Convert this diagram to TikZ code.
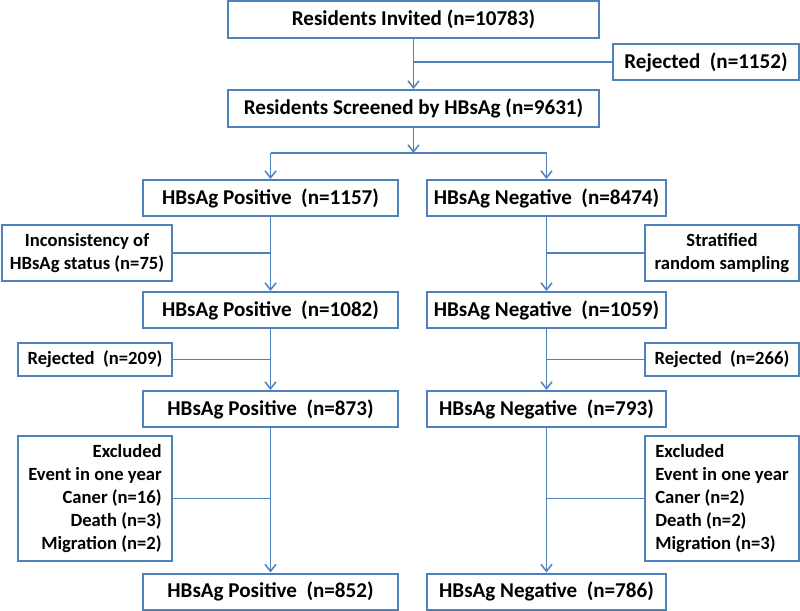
\documentclass[tikz,border=0pt]{standalone}
\usepackage{fontspec}
\setmainfont{Carlito}
\usetikzlibrary{arrows.meta}
\definecolor{r79g129b189}{rgb}{0.309804,0.505882,0.741176}
\tikzset{
  flowbox/.style={draw=r79g129b189, line width=0.040000cm, inner sep=0pt,
    minimum height=0.720000cm, font=\fontsize{12}{14}\selectfont\bfseries},
  sidebox/.style={draw=r79g129b189, line width=0.040000cm, inner sep=0pt,
    minimum width=3.080000cm, font=\fontsize{10.6}{13}\selectfont\bfseries},
  link/.style={draw=r79g129b189, line width=0.030000cm},
  flowarrow/.style={link, -{Straight Barb[length=0.140000cm,width=0.220000cm]}}
}
\begin{document}
\begin{tikzpicture}
                    \useasboundingbox (0.000000,0.000000) rectangle (16.000000,-12.220000);
                    
                    % Drawing box residents invited
                    \draw (8.270000,-0.390000) node [flowbox, minimum width=7.420000cm, minimum height=0.740000cm] (invited) { Residents Invited (n=10783) };%
                    
                    % Drawing box rejected at invitation
                    \draw (14.120000,-1.240000) node [flowbox, minimum width=3.720000cm] (rejtop) { Rejected~ (n=1152) };%
                    
                    % Drawing box residents screened
                    \draw (8.270000,-2.170000) node [flowbox, minimum width=7.420000cm, minimum height=0.740000cm] (screened) { Residents Screened by HBsAg (n=9631) };%
                    
                    % Drawing boxes HBsAg positive
                    \draw (5.410000,-3.960000) node [flowbox, minimum width=5.100000cm] (posA) { HBsAg Positive~ (n=1157) };%
                    \draw (5.410000,-6.200000) node [flowbox, minimum width=5.100000cm] (posB) { HBsAg Positive~ (n=1082) };%
                    \draw (5.410000,-8.180000) node [flowbox, minimum width=5.100000cm] (posC) { HBsAg Positive~ (n=873) };%
                    \draw (5.410000,-11.830000) node [flowbox, minimum width=5.100000cm] (posD) { HBsAg Positive~ (n=852) };%
                    
                    % Drawing boxes HBsAg negative
                    \draw (10.930000,-3.960000) node [flowbox, minimum width=4.780000cm] (negA) { HBsAg Negative~ (n=8474) };%
                    \draw (10.930000,-6.200000) node [flowbox, minimum width=4.780000cm] (negB) { HBsAg Negative~ (n=1059) };%
                    \draw (10.930000,-8.180000) node [flowbox, minimum width=4.780000cm] (negC) { HBsAg Negative~ (n=793) };%
                    \draw (10.930000,-11.830000) node [flowbox, minimum width=4.780000cm] (negD) { HBsAg Negative~ (n=786) };%
                    
                    % Drawing side boxes of positive branch
                    \draw (1.740000,-5.060000) node [sidebox, minimum width=3.400000cm, minimum height=1.120000cm, align=center] (posout1) { Inconsistency of\\HBsAg status (n=75) };%
                    \draw (1.900000,-7.190000) node [sidebox, minimum height=0.660000cm] (posout2) { Rejected~ (n=209) };%
                    \draw (1.900000,-9.970000) node [sidebox, minimum height=2.500000cm, align=right] (posout3) { Excluded\\Event in one year\\Caner (n=16)\\Death (n=3)\\Migration (n=2) };%
                    
                    % Drawing side boxes of negative branch
                    \draw (14.440000,-5.060000) node [sidebox, minimum height=1.120000cm, align=center] (negout1) { Stratified\\random sampling };%
                    \draw (14.440000,-7.190000) node [sidebox, minimum height=0.660000cm] (negout2) { Rejected~ (n=266) };%
                    \draw (14.440000,-9.970000) node [sidebox, minimum height=2.500000cm, align=left] (negout3) { Excluded\\Event in one year\\Caner (n=2)\\Death (n=2)\\Migration (n=3) };%
                    
                    % Drawing stem invited -> screened
                    \coordinate (jtop) at (invited.south |- rejtop.west);
                    \draw [flowarrow] (invited.south) -- (screened.north);%
                    \draw [link] (jtop) -- (rejtop.west);%
                    
                    % Drawing split into positive and negative
                    \coordinate (split) at (8.270000,-3.060000);
                    \coordinate (splitpos) at (posA.north |- split);
                    \coordinate (splitneg) at (negA.north |- split);
                    \draw [flowarrow] (screened.south) -- (split);%
                    \draw [link] (splitpos) -- (splitneg);%
                    \draw [flowarrow] (splitpos) -- (posA.north);%
                    \draw [flowarrow] (splitneg) -- (negA.north);%
                    
                    % Drawing positive branch
                    \draw [flowarrow] (posA.south) -- (posB.north);%
                    \draw [flowarrow] (posB.south) -- (posC.north);%
                    \draw [flowarrow] (posC.south) -- (posD.north);%
                    \draw [link] (posout1.east) -- (posout1.east -| posA.south);%
                    \draw [link] (posout2.east) -- (posout2.east -| posB.south);%
                    \draw [link] (posout3.east) -- (posout3.east -| posC.south);%
                    
                    % Drawing negative branch
                    \draw [flowarrow] (negA.south) -- (negB.north);%
                    \draw [flowarrow] (negB.south) -- (negC.north);%
                    \draw [flowarrow] (negC.south) -- (negD.north);%
                    \draw [link] (negout1.west) -- (negout1.west -| negA.south);%
                    \draw [link] (negout2.west) -- (negout2.west -| negB.south);%
                    \draw [link] (negout3.west) -- (negout3.west -| negC.south);%
                \end{tikzpicture}
\end{document}
